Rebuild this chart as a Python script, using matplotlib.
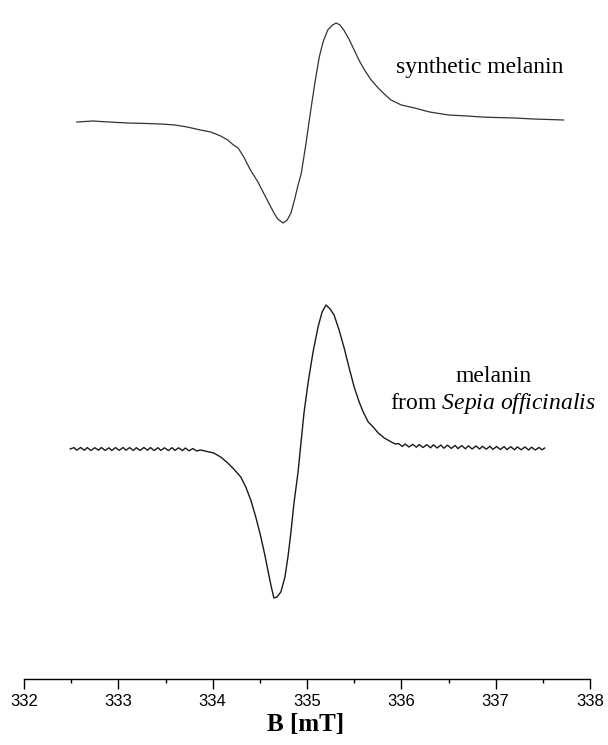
import matplotlib
matplotlib.use('Agg')
import matplotlib.pyplot as plt
import numpy as np

plt.rcParams['mathtext.fontset'] = 'custom'
plt.rcParams['mathtext.rm'] = 'Liberation Serif'
plt.rcParams['mathtext.it'] = 'Liberation Serif:italic'

# synthetic melanin (field in mT, signal in arb. units relative to its baseline)
synth_B = [332.56, 332.73, 332.90, 333.10, 333.30, 333.45, 333.60, 333.73,
           333.87, 333.98, 334.085, 334.16, 334.22, 334.27, 334.33, 334.40,
           334.48, 334.54, 334.60, 334.65, 334.69, 334.745, 334.79, 334.83,
           334.87, 334.90, 334.94, 334.99, 335.04, 335.085, 335.13, 335.17,
           335.22, 335.27, 335.31, 335.35, 335.39, 335.45, 335.50, 335.55,
           335.61, 335.68, 335.755, 335.83, 335.89, 336.00, 336.14, 336.30,
           336.50, 336.70, 336.85, 337.00, 337.20, 337.40, 337.72]
synth_s = [-1, 0, -1, -2, -2.5, -3, -4, -6,
           -9, -11, -15, -19, -24, -27, -36, -49,
           -61, -72, -83, -92, -98, -102, -99, -92,
           -78, -66, -52, -22, 11, 39, 64, 79,
           91, 96, 98, 96, 91, 81, 71, 61,
           51, 41, 33, 26, 21, 16, 13, 9,
           6, 5, 4, 3.5, 3, 2, 1]

# melanin from Sepia officinalis
sepia_B = [332.49, 332.53, 332.56, 332.60, 332.64, 332.67, 332.71, 332.75, 332.79,
           332.82, 332.86, 332.90, 332.93, 332.97, 333.01, 333.05, 333.08, 333.12,
           333.16, 333.19, 333.23, 333.27, 333.31, 333.34, 333.38, 333.42, 333.45,
           333.49, 333.53, 333.57, 333.60, 333.64, 333.68, 333.71, 333.75, 333.79,
           333.83, 333.872, 334.011, 334.085, 334.16, 334.223, 334.298, 334.351,
           334.404, 334.457, 334.511, 334.553, 334.585, 334.617, 334.649, 334.681,
           334.723, 334.766, 334.798, 334.83, 334.862, 334.904, 334.936, 334.968,
           335.011, 335.064, 335.117, 335.16, 335.202, 335.245, 335.287, 335.34,
           335.394, 335.447, 335.50, 335.553, 335.596, 335.649, 335.702, 335.755,
           335.819, 335.894, 335.936,
           335.97, 336.01, 336.04, 336.08, 336.12, 336.16, 336.19, 336.23, 336.27,
           336.31, 336.34, 336.38, 336.42, 336.45, 336.49, 336.53, 336.57, 336.60,
           336.64, 336.68, 336.71, 336.75, 336.79, 336.83, 336.86, 336.90, 336.94,
           336.97, 337.01, 337.05, 337.09, 337.12, 337.16, 337.20, 337.23, 337.27,
           337.31, 337.35, 337.38, 337.42, 337.46, 337.49, 337.52]
sepia_s = [0, 1.4, -1.2, 1.5, -1.3, 1.4, -1.5, 1.3, -1.2,
           1.5, -1.4, 1.2, -1.5, 1.4, -1.3, 1.5, -1.2, 1.4,
           -1.5, 1.3, -1.4, 1.5, -1.2, 1.4, -1.5, 1.3, -1.4,
           1.2, -1.5, 1.3, -1.4, 1.2, -1.6, 1.0, -1.8, 0.5,
           -2.0, -1, -4, -8, -14, -20, -28, -38,
           -51, -68, -88, -106, -121, -136, -149, -148,
           -143, -128, -108, -83, -54, -24, 6, 36,
           66, 97, 122, 137, 144, 140, 134, 119,
           101, 81, 62, 47, 37, 27, 22, 16,
           11, 7, 5,
           5.5, 2.5, 5.0, 2.0, 4.6, 1.8, 4.5, 1.5, 4.3,
           1.2, 4.2, 1.0, 4.0, 0.8, 3.8, 0.6, 3.6, 0.4,
           3.4, 0.2, 3.2, 0.0, 3.0, 0.0, 2.8, -0.2, 2.7,
           -0.4, 2.5, -0.5, 2.4, -0.6, 2.3, -0.8, 2.2, -0.8,
           2.0, -1.0, 1.8, -1.0, 1.6, -0.8, 1.0]

ticks = [332, 333, 334, 335, 336, 337, 338]

fig = plt.figure(figsize=(6.08, 7.45), dpi=100)
# axis line sits ~679 px from the top; y data unit = 1 px
ax = fig.add_axes([24 / 608, 1 - 679 / 745, 566 / 608, 679 / 745])

ax.plot(synth_B, np.array(synth_s) + 558, color='#333333', lw=0.9)
ax.plot(sepia_B, np.array(sepia_s) + 230, color='#1a1a1a', lw=1.0)

ax.set_xlim(332, 338)
ax.set_ylim(0, 679)
ax.set_xticks(ticks)
ax.set_xticks(np.arange(332.5, 338, 1.0), minor=True)
ax.set_xticklabels([str(t) for t in ticks], fontfamily='Liberation Sans', fontsize=12)
ax.tick_params(axis='x', which='major', direction='out', length=7, width=1, pad=3.5)
ax.tick_params(axis='x', which='minor', direction='out', length=3, width=1)
ax.set_yticks([])
for s in ['top', 'left', 'right']:
    ax.spines[s].set_visible(False)
ax.spines['bottom'].set_linewidth(1)
ax.patch.set_visible(False)

fig.text(306 / 608, 1 - 725 / 745, 'B [mT]', fontfamily='Liberation Serif',
         fontweight='bold', fontsize=18, ha='center', va='center')

ax.text(336.835, 611, 'synthetic melanin', fontfamily='Liberation Serif',
        fontsize=17, ha='center', va='center')
ax.text(336.98, 302, 'melanin', fontfamily='Liberation Serif',
        fontsize=17, ha='center', va='center')
ax.text(336.97, 276, r'from $\it{Sepia\ officinalis}$', fontfamily='Liberation Serif',
        fontsize=17, ha='center', va='center')

plt.savefig('out.png', dpi=100)
